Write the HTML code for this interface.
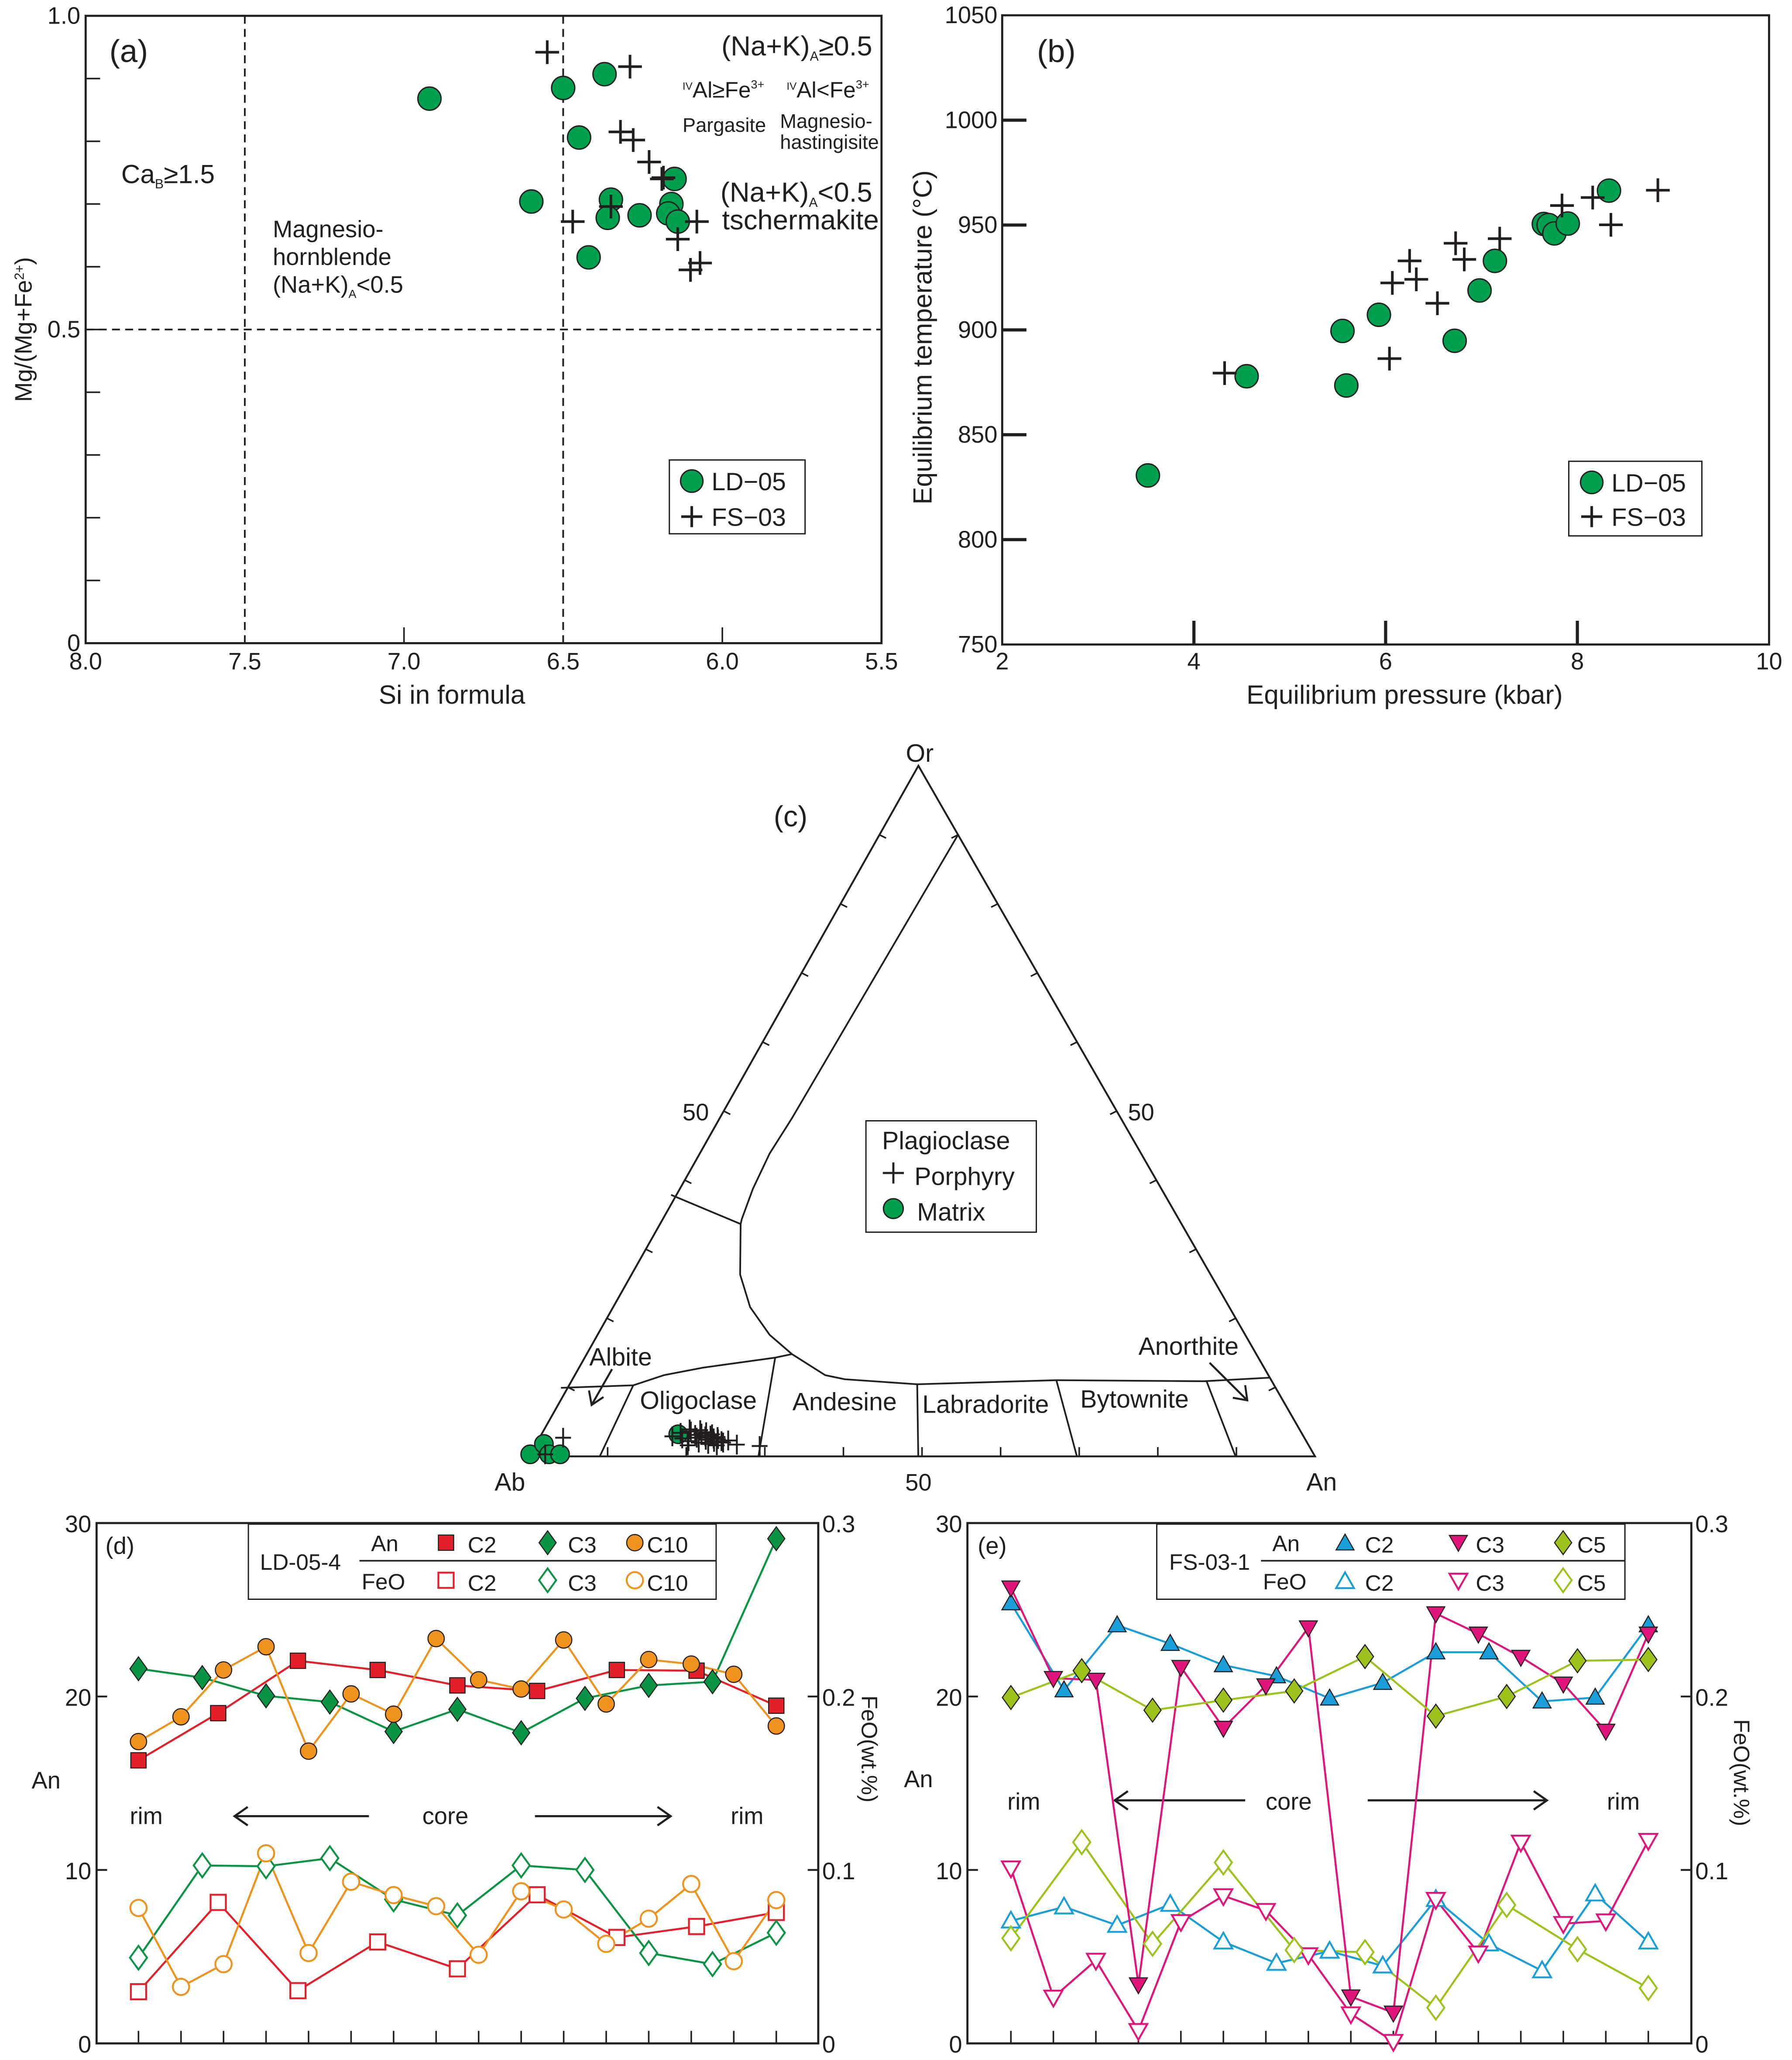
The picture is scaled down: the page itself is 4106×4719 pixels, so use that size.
<!DOCTYPE html>
<html><head><meta charset="utf-8">
<style>
html,body{margin:0;padding:0;background:#fff;}
svg{display:block;}
text{font-family:"Liberation Sans Narrow","Liberation Sans",sans-serif;fill:#231f20;}
</style></head>
<body>
<svg id="fig" xmlns="http://www.w3.org/2000/svg" width="4106" height="4719" viewBox="0 0 1360 1563" preserveAspectRatio="none">
<rect x="0" y="0" width="1360" height="1563" fill="#fff"/>

<!-- PANEL A -->
<g id="pa">
  <rect x="65" y="12" width="604" height="476" fill="none" stroke="#231f20" stroke-width="1.6"/>
  <text x="83" y="47" font-size="24">(a)</text>
  <text x="662" y="42" font-size="21" text-anchor="end">(Na+K)<tspan font-size="10" dy="4">A</tspan><tspan dy="-4">≥0.5</tspan></text>
  <text x="518" y="74" font-size="17"><tspan font-size="8" dy="-6">IV</tspan><tspan dy="6">Al≥Fe</tspan><tspan font-size="9" dy="-7">3+</tspan></text>
  <text x="597" y="74" font-size="17"><tspan font-size="8" dy="-6">IV</tspan><tspan dy="6">Al&lt;Fe</tspan><tspan font-size="9" dy="-7">3+</tspan></text>
  <text x="518" y="100" font-size="15">Pargasite</text>
  <text x="592" y="97" font-size="15">Magnesio-</text>
  <text x="592" y="113" font-size="15">hastingisite</text>
  <text x="662" y="153" font-size="21" text-anchor="end">(Na+K)<tspan font-size="10" dy="4">A</tspan><tspan dy="-4">&lt;0.5</tspan></text>
  <text x="667" y="174" font-size="21" text-anchor="end">tschermakite</text>
  <text x="92" y="139" font-size="20">Ca<tspan font-size="10" dy="4">B</tspan><tspan dy="-4">≥1.5</tspan></text>
  <text x="207" y="180" font-size="18">Magnesio-</text>
  <text x="207" y="201" font-size="18">hornblende</text>
  <text x="207" y="222" font-size="18">(Na+K)<tspan font-size="9" dy="4">A</tspan><tspan dy="-4">&lt;0.5</tspan></text>
  <rect x="508" y="349" width="103" height="56" fill="#fff" stroke="#231f20" stroke-width="1"/>
  <circle cx="525" cy="365" r="8.5" fill="#00a04e" stroke="#231f20" stroke-width="1"/>
  <text x="540" y="372" font-size="19">LD−05</text>
  <path d="M517 392h16M525 384v16" stroke="#231f20" stroke-width="2"/>
  <text x="540" y="399" font-size="19">FS−03</text>
  <text x="343" y="534" font-size="20" text-anchor="middle">Si in formula</text>
  <text transform="translate(24,250) rotate(-90)" font-size="18" text-anchor="middle">Mg/(Mg+Fe<tspan font-size="10" dy="-6">2+</tspan><tspan dy="6">)</tspan></text>
</g>

<!-- PANEL B -->
<g id="pb">
  <rect x="760.6" y="11.6" width="582" height="477.4" fill="none" stroke="#231f20" stroke-width="1.6"/>
  <text x="787" y="47" font-size="24">(b)</text>
  <rect x="1190.6" y="350" width="101" height="56.6" fill="#fff" stroke="#231f20" stroke-width="1"/>
  <circle cx="1208" cy="366" r="8.5" fill="#00a04e" stroke="#231f20" stroke-width="1"/>
  <text x="1223" y="373" font-size="19">LD−05</text>
  <path d="M1200 392h16M1208 384v16" stroke="#231f20" stroke-width="2"/>
  <text x="1223" y="399" font-size="19">FS−03</text>
  <text x="1066" y="534" font-size="20" text-anchor="middle">Equilibrium pressure (kbar)</text>
  <text transform="translate(707,256) rotate(-90)" font-size="20" text-anchor="middle">Equilibrium temperature (°C)</text>
</g>

<!-- PANEL C -->
<g id="pc">
  <text x="698" y="578" font-size="19" text-anchor="middle">Or</text>
  <text x="600" y="627" font-size="22" text-anchor="middle">(c)</text>
  <text x="528" y="850" font-size="18" text-anchor="middle">50</text>
  <text x="866" y="850" font-size="18" text-anchor="middle">50</text>
  <text x="387" y="1131" font-size="19" text-anchor="middle">Ab</text>
  <text x="697" y="1131" font-size="18" text-anchor="middle">50</text>
  <text x="1003" y="1131" font-size="19" text-anchor="middle">An</text>
  <text x="471" y="1036" font-size="19" text-anchor="middle">Albite</text>
  <text x="530" y="1069" font-size="19" text-anchor="middle">Oligoclase</text>
  <text x="641" y="1070" font-size="19" text-anchor="middle">Andesine</text>
  <text x="748" y="1072" font-size="19" text-anchor="middle">Labradorite</text>
  <text x="861" y="1068" font-size="19" text-anchor="middle">Bytownite</text>
  <text x="902" y="1028" font-size="19" text-anchor="middle">Anorthite</text>
  <rect x="657.2" y="850.4" width="129.3" height="84.5" fill="#fff" stroke="#231f20" stroke-width="1"/>
  <text x="718" y="872" font-size="19" text-anchor="middle">Plagioclase</text>
  <path d="M670 890h16M678 882v16" stroke="#231f20" stroke-width="1.6"/>
  <text x="694" y="899" font-size="19">Porphyry</text>
  <circle cx="678" cy="917" r="7.5" fill="#00a04e" stroke="#231f20" stroke-width="1"/>
  <text x="696" y="926" font-size="19">Matrix</text>
</g>

<!-- PANEL D -->
<g id="pd">
  <rect x="73.3" y="1155.6" width="547.7" height="394.8" fill="none" stroke="#231f20" stroke-width="1.6"/>
  <text x="80" y="1179" font-size="18">(d)</text>
  <text x="35" y="1357" font-size="18" text-anchor="middle">An</text>
  <text transform="translate(654,1327) rotate(90)" font-size="17" text-anchor="middle">FeO(wt.%)</text>
  <text x="111" y="1384" font-size="18" text-anchor="middle">rim</text>
  <text x="338" y="1384" font-size="18" text-anchor="middle">core</text>
  <text x="567" y="1384" font-size="18" text-anchor="middle">rim</text>
  <path d="M280 1378H178M188 1371l-10 7 10 7" fill="none" stroke="#231f20" stroke-width="1.6"/>
  <path d="M406 1378H509M499 1371l10 7-10 7" fill="none" stroke="#231f20" stroke-width="1.6"/>
  <rect x="188.5" y="1156.4" width="355" height="57" fill="#fff" stroke="#231f20" stroke-width="1"/>
  <line x1="272.8" y1="1184.2" x2="543.5" y2="1184.2" stroke="#231f20" stroke-width="1.2"/>
  <text x="228" y="1191" font-size="17" text-anchor="middle">LD-05-4</text>
  <text x="292" y="1177" font-size="17" text-anchor="middle">An</text>
  <text x="291" y="1206" font-size="17" text-anchor="middle">FeO</text>
  <text x="355" y="1178" font-size="17">C2</text>
  <text x="431" y="1178" font-size="17">C3</text>
  <text x="491" y="1178" font-size="17">C10</text>
  <text x="355" y="1207" font-size="17">C2</text>
  <text x="431" y="1207" font-size="17">C3</text>
  <text x="491" y="1207" font-size="17">C10</text>
</g>

<!-- PANEL E -->
<g id="pe">
  <rect x="734.2" y="1155.6" width="549.4" height="394.8" fill="none" stroke="#231f20" stroke-width="1.6"/>
  <text x="742" y="1179" font-size="18">(e)</text>
  <text x="697" y="1356" font-size="18" text-anchor="middle">An</text>
  <text transform="translate(1316,1345) rotate(90)" font-size="17" text-anchor="middle">FeO(wt.%)</text>
  <text x="777" y="1373" font-size="18" text-anchor="middle">rim</text>
  <text x="978" y="1373" font-size="18" text-anchor="middle">core</text>
  <text x="1232" y="1373" font-size="18" text-anchor="middle">rim</text>
  <path d="M945 1366H846M856 1359l-10 7 10 7" fill="none" stroke="#231f20" stroke-width="1.6"/>
  <path d="M1038 1366H1174M1164 1359l10 7-10 7" fill="none" stroke="#231f20" stroke-width="1.6"/>
  <rect x="877.9" y="1156.4" width="355.3" height="57" fill="#fff" stroke="#231f20" stroke-width="1"/>
  <line x1="957" y1="1184.2" x2="1233.2" y2="1184.2" stroke="#231f20" stroke-width="1.2"/>
  <text x="918" y="1191" font-size="17" text-anchor="middle">FS-03-1</text>
  <text x="976" y="1177" font-size="17" text-anchor="middle">An</text>
  <text x="975" y="1206" font-size="17" text-anchor="middle">FeO</text>
  <text x="1036" y="1178" font-size="17">C2</text>
  <text x="1120" y="1178" font-size="17">C3</text>
  <text x="1197" y="1178" font-size="17">C5</text>
  <text x="1036" y="1207" font-size="17">C2</text>
  <text x="1120" y="1207" font-size="17">C3</text>
  <text x="1197" y="1207" font-size="17">C5</text>
</g>
</svg>

<script>
// ---------- Panel (a) data ----------
const aXTicks = ["8.0","7.5","7.0","6.5","6.0","5.5"];
const aXTickVals = [8.0,7.5,7.0,6.5,6.0,5.5];
const aYTicks = ["0","0.5","1.0"];
const aYTickVals = [0,0.5,1.0];
const aLdSi = [6.92,6.50,6.37,6.45,6.15,6.60,6.35,6.16,6.36,6.26,6.17,6.14,6.42];
const aLdMg = [0.868,0.885,0.907,0.806,0.74,0.704,0.707,0.70,0.678,0.682,0.685,0.672,0.615];
const aFsSi = [6.55,6.29,6.32,6.28,6.23,6.19,6.185,6.35,6.47,6.08,6.14,6.10,6.07];
const aFsMg = [0.942,0.919,0.815,0.802,0.767,0.74,0.742,0.696,0.672,0.672,0.644,0.595,0.606];

// ---------- Panel (b) data ----------
const bXTicks = ["2","4","6","8","10"];
const bXTickVals = [2,4,6,8,10];
const bYTicks = ["750","800","850","900","950","1000","1050"];
const bYTickVals = [750,800,850,900,950,1000,1050];
const bLdP = [3.52,4.55,5.55,5.59,5.93,6.72,6.98,7.14,7.65,7.70,7.76,7.90,8.33];
const bLdT = [830.6,877.9,899.5,873.5,907.2,894.8,918.8,932.9,950.5,950.0,946.0,950.7,966.4];
const bFsP = [4.32,6.04,6.07,6.25,6.32,6.54,6.73,6.82,7.19,7.84,8.16,8.35,8.84];
const bFsT = [879.4,886.3,922.4,932.9,924.1,912.7,941.3,933.6,943.5,959.3,963.1,950.1,966.6];

// ---------- Panel (c) data (An %, Or %) ----------
const cMatrixAn = [0.0,1.0,2.4,3.8,17.4];
const cMatrixOr = [0.3,1.8,0.3,0.3,3.2];
const cPorphAn = [3.0,1.9,16.8,17.6,18.2,18.8,19.2,19.6,20.0,20.3,20.6,21.0,21.3,21.6,21.9,22.2,22.5,22.8,23.1,23.4,18.5,19.9,20.8,21.7,22.6,23.7,24.2,25.6,28.6,19.4];
const cPorphOr = [2.7,0.3,2.9,3.4,2.6,3.6,2.2,3.1,2.7,3.3,2.0,2.9,2.4,3.0,1.8,2.6,2.1,2.5,1.6,2.2,3.9,3.8,3.5,3.2,2.8,2.0,2.3,1.7,1.5,1.6];

// ---------- Panel (d) data ----------
const dYTicks = ["0","10","20","30"];
const dYTickVals = [0,10,20,30];
const dY2Ticks = ["0","0.1","0.2","0.3"];
const dY2TickVals = [0,0.1,0.2,0.3];
const dC2Pos = [0,1.875,3.75,5.625,7.5,9.375,11.25,13.125,15];
const dC3Pos = [0,1.5,3,4.5,6,7.5,9,10.5,12,13.5,15];
const dC10Pos = [0,1,2,3,4,5,6,7,8,9,10,11,12,13,14,15];
const dC2An = [16.32,19.04,22.06,21.53,20.64,20.32,21.53,21.49,19.47];
const dC3An = [21.6,21.09,20.04,19.68,17.98,19.26,17.91,19.89,20.64,20.85,29.1];
const dC10An = [17.40,18.83,21.53,22.87,16.85,20.15,18.98,23.34,20.96,20.43,23.26,19.57,22.13,21.87,21.28,18.30];
const dC2FeO = [0.0298,0.0813,0.0304,0.0585,0.0430,0.0857,0.0611,0.0674,0.0755];
const dC3FeO = [0.0494,0.1026,0.1021,0.1068,0.0830,0.0738,0.1026,0.1000,0.0521,0.0457,0.0638];
const dC10FeO = [0.0781,0.0326,0.0457,0.1096,0.0521,0.0932,0.0855,0.0791,0.0511,0.0877,0.0772,0.0574,0.0719,0.0919,0.0474,0.0826];

// ---------- Panel (e) data ----------
const eC2Pos = [0,1.25,2.5,3.75,5,6.25,7.5,8.75,10,11.25,12.5,13.75,15];
const eC3Pos = [0,1,2,3,4,5,6,7,8,9,10,11,12,13,14,15];
const eC5Pos = [0,1.667,3.333,5,6.667,8.333,10,11.667,13.333,15];
const eC2An = [25.38,20.36,24.11,23.04,21.81,21.17,19.89,20.79,22.55,22.55,19.72,19.94,24.11];
const eC3An = [26.28,21.06,20.96,3.40,21.70,18.19,20.64,23.98,2.70,1.77,24.79,23.62,22.28,20.74,18.02,23.62];
const eC5An = [19.94,21.49,19.21,19.79,20.32,22.30,18.87,20.0,22.06,22.13];
const eC2FeO = [0.0706,0.0787,0.0681,0.0802,0.0585,0.0462,0.0532,0.0447,0.0830,0.0574,0.0419,0.0862,0.0585];
const eC3FeO = [0.1011,0.0266,0.0479,0.0074,0.0702,0.0851,0.0766,0.0511,0.0170,0.0011,0.0830,0.0521,0.1160,0.0691,0.0706,0.1170];
const eC5FeO = [0.0606,0.1160,0.0574,0.1043,0.0538,0.0526,0.0206,0.0798,0.0543,0.0319];

const NS = "http://www.w3.org/2000/svg";
const INK = "#231f20";
function mk(parent, tag, attrs, name) {
  const el = document.createElementNS(NS, tag);
  for (const k in attrs) el.setAttribute(k, attrs[k]);
  
  
  parent.appendChild(el);
  return el;
}
function txt(parent, x, y, s, size, anchor, name) {
  const el = mk(parent, 'text', {x: x, y: y, 'font-size': size, 'text-anchor': anchor}, name);
  el.textContent = s;
  return el;
}
function cross(g, x, y, h, w, sw, name) {
  mk(g, 'path', {d: `M${x-h} ${y}h${2*h}M${x} ${y-w}v${2*w}`, stroke: INK, 'stroke-width': sw, fill: 'none'}, name);
}
function marker(g, kind, x, y, color, filled, name) {
  const fill = filled ? color : '#fff';
  const stroke = filled ? INK : color;
  const sw = filled ? 0.8 : 1.4;
  if (kind === 'square') mk(g, 'rect', {x: x-5.8, y: y-5.8, width: 11.6, height: 11.6, fill: fill, stroke: stroke, 'stroke-width': sw}, name);
  else if (kind === 'circle') mk(g, 'circle', {cx: x, cy: y, r: 6.2, fill: fill, stroke: stroke, 'stroke-width': sw}, name);
  else if (kind === 'diamond') mk(g, 'path', {d: `M${x} ${y-9}L${x+6.5} ${y}L${x} ${y+9}L${x-6.5} ${y}Z`, fill: fill, stroke: stroke, 'stroke-width': sw}, name);
  else if (kind === 'tri') mk(g, 'path', {d: `M${x} ${y-7}L${x+6.8} ${y+5}L${x-6.8} ${y+5}Z`, fill: fill, stroke: stroke, 'stroke-width': sw}, name);
  else if (kind === 'tridown') mk(g, 'path', {d: `M${x} ${y+7}L${x+6.8} ${y-5}L${x-6.8} ${y-5}Z`, fill: fill, stroke: stroke, 'stroke-width': sw}, name);
}

// ---------- Panel (a) ----------
(function(){
  const g = document.getElementById('pa');
  const xa = v => 65 + (8 - v) / 2.5 * 604;
  const ya = v => 488 - v * 476;
  aXTicks.forEach((t, i) => txt(g, xa(aXTickVals[i]), 508, t, 18, 'middle', 'x-tick-label-a'));
  aYTicks.forEach((t, i) => txt(g, 61, ya(aYTickVals[i]) + 6, t, 18, 'end', 'y-tick-label-a'));
  for (let k = 1; k < 10; k++) mk(g, 'line', {x1: 65, x2: 76, y1: ya(k/10), y2: ya(k/10), stroke: INK, 'stroke-width': 1.2}, 'y-tick-a');
  [7.0, 6.0].forEach(v => mk(g, 'line', {x1: xa(v), x2: xa(v), y1: 488, y2: 476, stroke: INK, 'stroke-width': 1.2}, 'x-tick-a'));
  [7.5, 6.5].forEach(v => mk(g, 'line', {x1: xa(v), x2: xa(v), y1: 12, y2: 488, stroke: INK, 'stroke-width': 1.3, 'stroke-dasharray': '6,4'}, 'divider-si'));
  mk(g, 'line', {x1: 65, x2: 669, y1: ya(0.5), y2: ya(0.5), stroke: INK, 'stroke-width': 1.3, 'stroke-dasharray': '6,4'}, 'divider-mg');
  aLdSi.forEach((v, i) => mk(g, 'circle', {cx: xa(v), cy: ya(aLdMg[i]), r: 8.8, fill: '#00a04e', stroke: INK, 'stroke-width': 1}, 'ld05-point'));
  aFsSi.forEach((v, i) => cross(g, xa(v), ya(aFsMg[i]), 9, 9, 2, 'fs03-point'));
})();

// ---------- Panel (b) ----------
(function(){
  const g = document.getElementById('pb');
  const xb = v => 760.6 + (v - 2) / 8 * 582;
  const yb = v => 489 - (v - 750) / 300 * 477.4;
  bXTicks.forEach((t, i) => txt(g, xb(bXTickVals[i]), 508, t, 18, 'middle', 'x-tick-label-b'));
  bYTicks.forEach((t, i) => txt(g, 757, yb(bYTickVals[i]) + 6, t, 18, 'end', 'y-tick-label-b'));
  bYTickVals.slice(1, 6).forEach(v => mk(g, 'line', {x1: 760.6, x2: 779, y1: yb(v), y2: yb(v), stroke: INK, 'stroke-width': 2.4}, 'y-tick-b'));
  [4, 6, 8].forEach(v => mk(g, 'line', {x1: xb(v), x2: xb(v), y1: 489, y2: 471, stroke: INK, 'stroke-width': 2.4}, 'x-tick-b'));
  bLdP.forEach((v, i) => mk(g, 'circle', {cx: xb(v), cy: yb(bLdT[i]), r: 8.8, fill: '#00a04e', stroke: INK, 'stroke-width': 1}, 'ld05-point-b'));
  bFsP.forEach((v, i) => cross(g, xb(v), yb(bFsT[i]), 9, 9, 2, 'fs03-point-b'));
})();

// ---------- Panel (c) ----------
(function(){
  const g = document.getElementById('pc');
  const AB = [401.5, 1105], AN = [998, 1105], OR = [697, 581];
  const tx = (an, or) => AB[0] + (an/100) * (AN[0]-AB[0]) + (or/100) * (OR[0]-AB[0]);
  const ty = (an, or) => AB[1] - (or/100) * (AB[1]-OR[1]);
  mk(g, 'path', {d: `M${AB[0]} ${AB[1]}L${AN[0]} ${AN[1]}L${OR[0]} ${OR[1]}Z`, fill: 'none', stroke: INK, 'stroke-width': 1.4}, 'ternary-outline');
  for (let k = 1; k < 10; k++) {
    const lx = tx(0, k*10), ly = ty(0, k*10);
    mk(g, 'line', {x1: lx, y1: ly, x2: lx + 5, y2: ly + 2.5, stroke: INK, 'stroke-width': 1.2}, 'left-edge-tick');
    const rx = tx(100 - k*10, k*10), ry = ty(100 - k*10, k*10);
    mk(g, 'line', {x1: rx, y1: ry, x2: rx - 5, y2: ry + 2.5, stroke: INK, 'stroke-width': 1.2}, 'right-edge-tick');
    const bx = tx(k*10, 0);
    mk(g, 'line', {x1: bx, y1: AB[1], x2: bx, y2: AB[1] - 7, stroke: INK, 'stroke-width': 1.2}, 'bottom-edge-tick');
  }
  mk(g, 'path', {d: 'M726.9 633.7L601 848.5L584.1 875.2L571.4 902L563 924.9L562.1 928.7L561.7 967L569.3 991.8L584.1 1012.8L601 1027.4L626.3 1043.4L641.1 1046.5L696.1 1050.3L801.7 1047.2L913.6 1048L963.5 1045.3', fill: 'none', stroke: INK, 'stroke-width': 1.3}, 'feldspar-boundary');
  mk(g, 'path', {d: 'M509.3 906.6L562.1 928.7', fill: 'none', stroke: INK, 'stroke-width': 1.3}, 'boundary-upper');
  mk(g, 'path', {d: 'M425.7 1053L480.6 1051.1L503.8 1043.4L533.4 1037.7L588.3 1030.1L601 1027.4', fill: 'none', stroke: INK, 'stroke-width': 1.3}, 'boundary-albite');
  mk(g, 'path', {d: 'M480.6 1051.1L455.2 1105M588.3 1030.1L575.6 1105M696.1 1050.3L696.9 1105M801.7 1047.2L817.3 1105M915.7 1048L937.7 1105', fill: 'none', stroke: INK, 'stroke-width': 1.3}, 'plagioclase-dividers');
  mk(g, 'path', {d: 'M464.5 1038.8L449 1066M447 1055l2 11 9-6', fill: 'none', stroke: INK, 'stroke-width': 1.5}, 'albite-arrow');
  mk(g, 'path', {d: 'M918 1034L946.6 1062.5M945 1051l1.6 11.5-11-2', fill: 'none', stroke: INK, 'stroke-width': 1.5}, 'anorthite-arrow');
  cMatrixAn.forEach((v, i) => mk(g, 'circle', {cx: tx(v, cMatrixOr[i]), cy: ty(v, cMatrixOr[i]), r: 7, fill: '#00a04e', stroke: INK, 'stroke-width': 1}, 'matrix-point'));
  cPorphAn.forEach((v, i) => cross(g, tx(v, cPorphOr[i]), ty(v, cPorphOr[i]), 6, 7.5, 1.4, 'porphyry-point'));
})();

// ---------- Panels (d)/(e) ----------
function profile(gid, x0, dx, left, right, ticksName, series, legend) {
  const g = document.getElementById(gid);
  const top = 1155.6, bot = 1550.4;
  const y = v => bot - v / 30 * (bot - top);
  const xp = p => x0 + p * dx;
  dYTicks.forEach((t, i) => txt(g, left - 4, y(dYTickVals[i]) + 7, t, 18, 'end', ticksName + '-y-tick-label'));
  dY2Ticks.forEach((t, i) => txt(g, right + 3, y(dY2TickVals[i] * 100) + 7, t, 18, 'start', ticksName + '-y2-tick-label'));
  [10, 20].forEach(v => {
    mk(g, 'line', {x1: left, x2: left + 8, y1: y(v), y2: y(v), stroke: INK, 'stroke-width': 1.4}, ticksName + '-y-tick');
    mk(g, 'line', {x1: right - 8, x2: right, y1: y(v), y2: y(v), stroke: INK, 'stroke-width': 1.4}, ticksName + '-y2-tick');
  });
  for (let i = 0; i < 16; i++) mk(g, 'line', {x1: xp(i), x2: xp(i), y1: bot, y2: bot - 9.5, stroke: INK, 'stroke-width': 1.2}, ticksName + '-x-tick');
  series.forEach(s => {
    const pts = s.pos.map((p, i) => `${xp(p).toFixed(1)},${y(s.vals[i] * s.k).toFixed(1)}`).join(' ');
    mk(g, 'polyline', {points: pts, fill: 'none', stroke: s.color, 'stroke-width': 1.5}, s.name + '-line');
  });
  series.forEach(s => {
    s.pos.forEach((p, i) => marker(g, s.kind, xp(p), y(s.vals[i] * s.k), s.color, s.filled, s.name + '-point'));
  });
  legend.forEach(l => marker(g, l.kind, l.x, l.y, l.color, l.filled, l.name));
}
const RED = '#e3202a', GRN = '#0a9444', ORG = '#f0921e', BLU = '#1a9ed9', MAG = '#e0157b', LIM = '#9cc31c';
profile('pd', 105.1, 32.27, 73.3, 621, 'd', [
  {pos: dC2Pos, vals: dC2FeO, k: 100, color: RED, kind: 'square', filled: false, name: 'c2-feo'},
  {pos: dC3Pos, vals: dC3FeO, k: 100, color: GRN, kind: 'diamond', filled: false, name: 'c3-feo'},
  {pos: dC10Pos, vals: dC10FeO, k: 100, color: ORG, kind: 'circle', filled: false, name: 'c10-feo'},
  {pos: dC2Pos, vals: dC2An, k: 1, color: RED, kind: 'square', filled: true, name: 'c2-an'},
  {pos: dC3Pos, vals: dC3An, k: 1, color: GRN, kind: 'diamond', filled: true, name: 'c3-an'},
  {pos: dC10Pos, vals: dC10An, k: 1, color: ORG, kind: 'circle', filled: true, name: 'c10-an'}
], [
  {kind: 'square', x: 338.5, y: 1170.5, color: RED, filled: true, name: 'legend-d-c2-an-marker'},
  {kind: 'diamond', x: 415.6, y: 1170.5, color: GRN, filled: true, name: 'legend-d-c3-an-marker'},
  {kind: 'circle', x: 481.8, y: 1170.5, color: ORG, filled: true, name: 'legend-d-c10-an-marker'},
  {kind: 'square', x: 338.5, y: 1199, color: RED, filled: false, name: 'legend-d-c2-feo-marker'},
  {kind: 'diamond', x: 415.6, y: 1199, color: GRN, filled: false, name: 'legend-d-c3-feo-marker'},
  {kind: 'circle', x: 481.8, y: 1199, color: ORG, filled: false, name: 'legend-d-c10-feo-marker'}
]);
profile('pe', 767.2, 32.25, 734.2, 1283.6, 'e', [
  {pos: eC2Pos, vals: eC2FeO, k: 100, color: BLU, kind: 'tri', filled: false, name: 'e-c2-feo'},
  {pos: eC3Pos, vals: eC3FeO, k: 100, color: MAG, kind: 'tridown', filled: false, name: 'e-c3-feo'},
  {pos: eC5Pos, vals: eC5FeO, k: 100, color: LIM, kind: 'diamond', filled: false, name: 'e-c5-feo'},
  {pos: eC2Pos, vals: eC2An, k: 1, color: BLU, kind: 'tri', filled: true, name: 'e-c2-an'},
  {pos: eC3Pos, vals: eC3An, k: 1, color: MAG, kind: 'tridown', filled: true, name: 'e-c3-an'},
  {pos: eC5Pos, vals: eC5An, k: 1, color: LIM, kind: 'diamond', filled: true, name: 'e-c5-an'}
], [
  {kind: 'tri', x: 1020.8, y: 1171, color: BLU, filled: true, name: 'legend-e-c2-an-marker'},
  {kind: 'tridown', x: 1106.8, y: 1170, color: MAG, filled: true, name: 'legend-e-c3-an-marker'},
  {kind: 'diamond', x: 1186.3, y: 1170.5, color: LIM, filled: true, name: 'legend-e-c5-an-marker'},
  {kind: 'tri', x: 1020.8, y: 1200, color: BLU, filled: false, name: 'legend-e-c2-feo-marker'},
  {kind: 'tridown', x: 1106.8, y: 1199, color: MAG, filled: false, name: 'legend-e-c3-feo-marker'},
  {kind: 'diamond', x: 1186.3, y: 1199, color: LIM, filled: false, name: 'legend-e-c5-feo-marker'}
]);
</script>
</body></html>
